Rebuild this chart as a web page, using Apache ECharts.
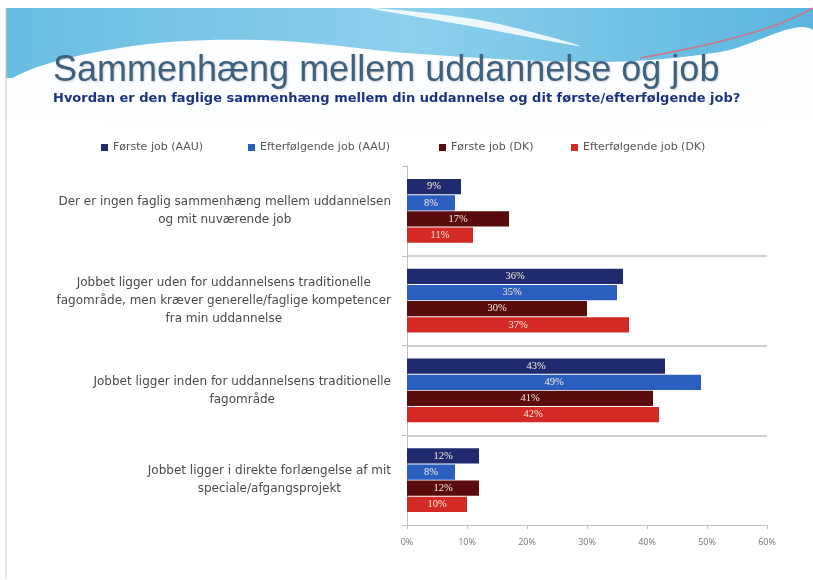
<!DOCTYPE html>
<html>
<head>
<meta charset="utf-8">
<script src="https://cdn.jsdelivr.net/npm/echarts@6/dist/echarts.min.js"></script>
<style>
  html, body { margin: 0; padding: 0; background: #fff; }
  #chart { width: 813px; height: 580px; }
</style>
</head>
<body>
<div id="chart"></div>
<script>
// kategorier, oppefra og ned
const categories = [
  'Der er ingen faglig sammenhæng mellem uddannelsen\nog mit nuværende job',
  'Jobbet ligger uden for uddannelsens traditionelle\nfagområde, men kræver generelle/faglige kompetencer\nfra min uddannelse',
  'Jobbet ligger inden for uddannelsens traditionelle\nfagområde',
  'Jobbet ligger i direkte forlængelse af mit\nspeciale/afgangsprojekt'
]
const seriesNames = ['Første job (AAU)', 'Efterfølgende job (AAU)', 'Første job (DK)', 'Efterfølgende job (DK)']
const foersteAAU = [9, 36, 43, 12]
const efterAAU = [8, 35, 49, 8]
const foersteDK = [17, 30, 41, 12]
const efterDK = [11, 37, 42, 10]
const colors = ['#1f2b6e', '#2b5fbf', '#5a0b0b', '#d42a26']
const legendLeft = [96, 243, 434, 566]

const chart = echarts.init(document.getElementById('chart'))
const sep = '#c9beb6'

const makeSeries = (name, values, i) => ({
  name,
  type: 'bar',
  data: values,
  barGap: '6%',
  barCategoryGap: '29%',
  itemStyle: { color: colors[i] },
  label: {
    show: true,
    position: 'inside',
    formatter: '{c}%',
    color: '#f6ead8',
    fontFamily: 'Liberation Serif',
    fontSize: 10.5
  }
})

chart.setOption({
  animation: false,
  backgroundColor: '#fff',
  graphic: [
    // himmelbølge i toppen
    {
      type: 'rect',
      z: -10,
      shape: { x: 6, y: 8, width: 807, height: 70 },
      style: {
        fill: new echarts.graphic.LinearGradient(0, 0, 1, 0, [
          { offset: 0, color: '#69bde2' },
          { offset: 0.5, color: '#8dd0ec' },
          { offset: 1, color: '#5bb5df' }
        ])
      }
    },
    {
      type: 'polygon',
      z: -9,
      shape: {
        points: [[6, 82], [120, 48], [260, 40], [420, 54], [600, 62], [720, 52], [813, 30], [813, 120], [6, 120]],
        smooth: 0.35
      },
      style: { fill: '#fdfeff' }
    },
    {
      type: 'polygon',
      z: -9,
      shape: { points: [[370, 8], [480, 20], [580, 46], [470, 26]], smooth: 0.3 },
      style: { fill: 'rgba(255,255,255,0.85)' }
    },
    {
      type: 'bezierCurve',
      z: -9,
      shape: { x1: 640, y1: 58, x2: 813, y2: 8, cpx1: 720, cpy1: 44, cpx2: 780, cpy2: 28 },
      style: { stroke: '#c47a8c', lineWidth: 1.5, fill: null }
    },
    {
      type: 'line',
      z: -8,
      shape: { x1: 6, y1: 8, x2: 6, y2: 578 },
      style: { stroke: '#c8c8c8', lineWidth: 1 }
    }
  ],
  title: {
    text: 'Sammenhæng mellem uddannelse og job',
    subtext: 'Hvordan er den faglige sammenhæng mellem din uddannelse og dit første/efterfølgende job?',
    left: 48,
    top: 48,
    itemGap: 3,
    textStyle: {
      fontFamily: 'Liberation Sans',
      fontSize: 36,
      fontWeight: 'normal',
      color: '#3f6180',
      textShadowColor: 'rgba(0,0,0,0.18)',
      textShadowOffsetX: 1,
      textShadowOffsetY: 1,
      textShadowBlur: 2
    },
    subtextStyle: {
      fontFamily: 'DejaVu Sans',
      fontSize: 13,
      fontWeight: 'bold',
      color: '#1c3384'
    }
  },
  legend: seriesNames.map((name, i) => ({
    data: [name],
    left: legendLeft[i],
    top: 137,
    itemWidth: 7,
    itemHeight: 7,
    itemGap: 6,
    icon: 'rect',
    textStyle: { fontFamily: 'DejaVu Sans', fontSize: 11, color: '#555' }
  })),
  grid: { left: 407, right: 46, top: 166, bottom: 55 },
  xAxis: {
    type: 'value',
    min: 0,
    max: 60,
    interval: 10,
    axisLine: { show: true, lineStyle: { color: sep } },
    axisTick: { show: true, length: 4, lineStyle: { color: sep } },
    splitLine: { show: false },
    axisLabel: { formatter: '{value}%', color: '#777', fontSize: 9, fontFamily: 'Open Sans', margin: 13 }
  },
  yAxis: {
    type: 'category',
    inverse: true,
    data: categories,
    axisLine: { show: true, lineStyle: { color: sep } },
    axisTick: { show: true, length: 5, lineStyle: { color: sep } },
    splitLine: {
      show: true,
      lineStyle: { color: ['rgba(0,0,0,0)', sep, sep, sep, 'rgba(0,0,0,0)'], width: 1.5 }
    },
    axisLabel: {
      margin: 16,
      formatter: v => v.split('\n').map(l => '{c|' + l + '}').join('\n'),
      rich: {
        c: { align: 'center', fontFamily: 'DejaVu Sans', fontSize: 12, color: '#4a4a4a', lineHeight: 18 }
      }
    }
  },
  series: [
    makeSeries(seriesNames[0], foersteAAU, 0),
    makeSeries(seriesNames[1], efterAAU, 1),
    makeSeries(seriesNames[2], foersteDK, 2),
    makeSeries(seriesNames[3], efterDK, 3)
  ]
})
</script>
</body>
</html>
